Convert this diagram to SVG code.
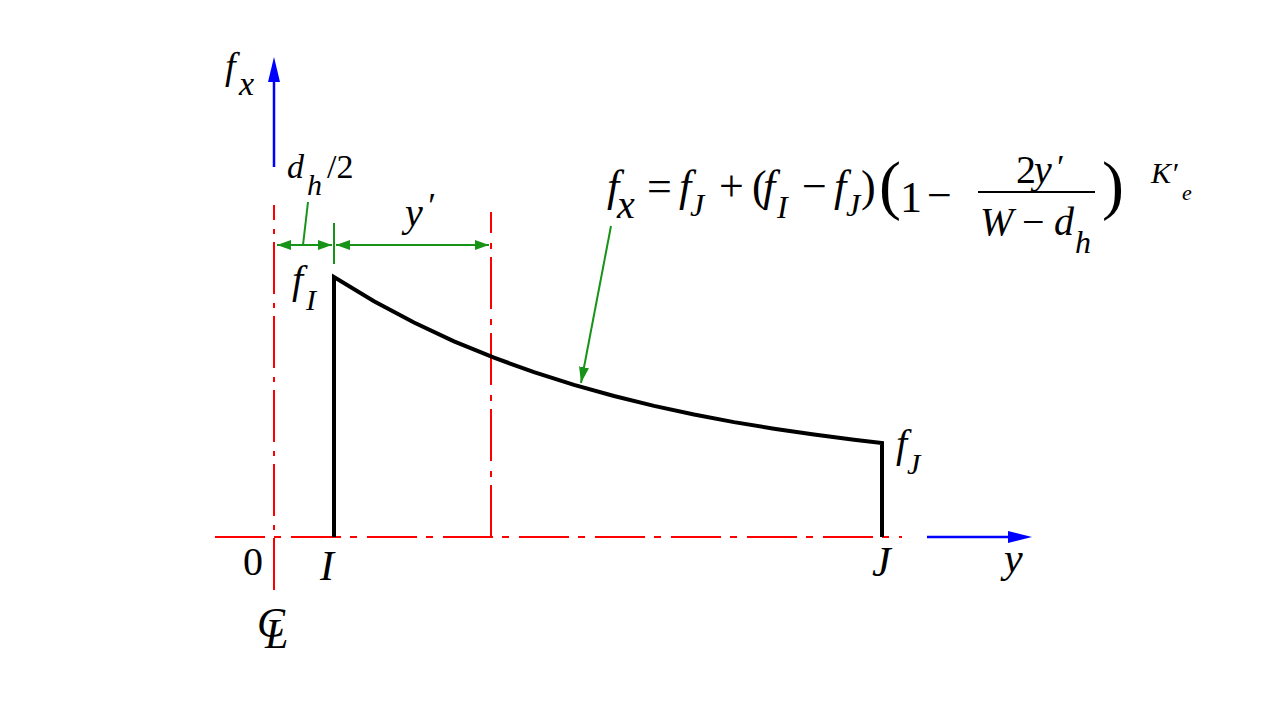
<svg xmlns="http://www.w3.org/2000/svg" width="1261" height="717" viewBox="0 0 1261 717">
<style>
text{font-family:"Liberation Serif","DejaVu Serif",serif;fill:#000}
.i{font-style:italic}
.red{stroke:#ff0000;stroke-width:2;fill:none}
.grn{stroke:#179317;stroke-width:2;fill:none}
.blu{stroke:#0000ff;stroke-width:2.5;fill:none}
.curve{stroke:#000;stroke-width:4;fill:none;stroke-linejoin:miter}
</style>
<defs>
<marker id="ga" viewBox="0 0 14 10" refX="14" refY="5" markerWidth="14" markerHeight="10" markerUnits="userSpaceOnUse" orient="auto-start-reverse">
<path d="M0,0 L14,5 L0,10 Z" fill="#179317"/>
</marker>
<marker id="gb" viewBox="0 0 16 10" refX="16" refY="5" markerWidth="16" markerHeight="10" markerUnits="userSpaceOnUse" orient="auto">
<path d="M0,0 L16,5 L0,10 Z" fill="#179317"/>
</marker>
</defs>
<rect width="1261" height="717" fill="#fff"/>
<g id="connectors">
<line id="centerline" class="red" x1="274" y1="590" x2="274" y2="205" stroke-dasharray="52 8 5 9"/>
<line id="yline" class="red" x1="491" y1="537" x2="491" y2="212" stroke-dasharray="52 8 6 10"/>
<line id="baseline" class="red" x1="215" y1="537" x2="902" y2="537" stroke-dasharray="50 9 7 10"/>
<line class="blu" x1="274" y1="167" x2="274" y2="80"/>
<polygon points="274,57 268,82 280,82" fill="#0000ff"/>
<line class="blu" x1="927" y1="537" x2="1010" y2="537"/>
<polygon points="1032,537 1008,531 1008,543" fill="#0000ff"/>
<line class="grn" x1="277" y1="245" x2="332" y2="245" marker-start="url(#ga)" marker-end="url(#ga)"/>
<line class="grn" x1="336" y1="245" x2="489" y2="245" marker-start="url(#ga)" marker-end="url(#ga)"/>
<line class="grn" x1="334" y1="223" x2="334" y2="264"/>
<line class="grn" x1="308" y1="202" x2="303" y2="245"/>
<line class="grn" x1="611" y1="226" x2="581" y2="383" marker-end="url(#gb)"/>
</g>
<g id="distribution">
<path class="curve" d="M334,537 V277 L374,301.2 L414,322.5 L454,341.3 L494,357.7 L534,372.2 L574,384.9 L614,396 L654,405.9 L694,414.5 L734,422.1 L774,428.7 L814,434.6 L854,439.7 L882,443 V537"/>
</g>
<g id="labels">
<text class="i" font-size="38" x="225" y="79">f</text>
<text class="i" font-size="34" x="239" y="95">x</text>
<text class="i" font-size="34" x="287" y="178">d</text>
<text class="i" font-size="30" x="307" y="195">h</text>
<text font-size="34" x="327" y="178">/2</text>
<text class="i" font-size="40" x="405" y="226">y</text>
<text class="i" font-size="36" x="426" y="218">′</text>
<text class="i" font-size="40" x="292" y="293">f</text>
<text class="i" font-size="30" x="306" y="310">I</text>
<text class="i" font-size="40" x="896" y="457">f</text>
<text class="i" font-size="30" x="907" y="474">J</text>
<text font-size="40" x="243" y="575">0</text>
<text class="i" font-size="42" x="320" y="580">I</text>
<text class="i" font-size="42" x="872" y="576">J</text>
<text class="i" font-size="42" x="1004" y="572">y</text>
<text class="i" font-size="42" x="257" y="637">C</text>
<text class="i" font-size="42" x="265" y="648">L</text>
</g>
<g id="formula">
<text class="i" font-size="44" x="607" y="201">f</text>
<text class="i" font-size="40" x="617" y="218">x</text>
<text font-size="44" x="647" y="201">=</text>
<text class="i" font-size="44" x="679" y="201">f</text>
<text class="i" font-size="32" x="690" y="216">J</text>
<text font-size="44" x="719" y="201">+</text>
<text font-size="44" x="752" y="201">(</text>
<text class="i" font-size="44" x="763" y="201">f</text>
<text class="i" font-size="32" x="777" y="218">I</text>
<text font-size="44" x="802" y="201">−</text>
<text class="i" font-size="44" x="834" y="201">f</text>
<text class="i" font-size="32" x="846" y="216">J</text>
<text font-size="44" x="861" y="201">)</text>
<text font-size="66" x="879" y="207">(</text>
<text font-size="44" x="900" y="212">1</text>
<text font-size="44" x="927" y="210">−</text>
<line x1="978" y1="192" x2="1095" y2="192" stroke="#000" stroke-width="2"/>
<text font-size="40" x="1016" y="183">2</text>
<text class="i" font-size="40" x="1034" y="183">y</text>
<text class="i" font-size="34" x="1055" y="178">′</text>
<text class="i" font-size="40" x="980" y="235">W</text>
<text font-size="40" x="1022" y="235">−</text>
<text class="i" font-size="40" x="1054" y="235">d</text>
<text class="i" font-size="32" x="1075" y="253">h</text>
<text font-size="66" x="1102" y="207">)</text>
<text class="i" font-size="30" x="1151" y="183">K′</text>
<text class="i" font-size="22" x="1182" y="200">e</text>
</g>
</svg>
